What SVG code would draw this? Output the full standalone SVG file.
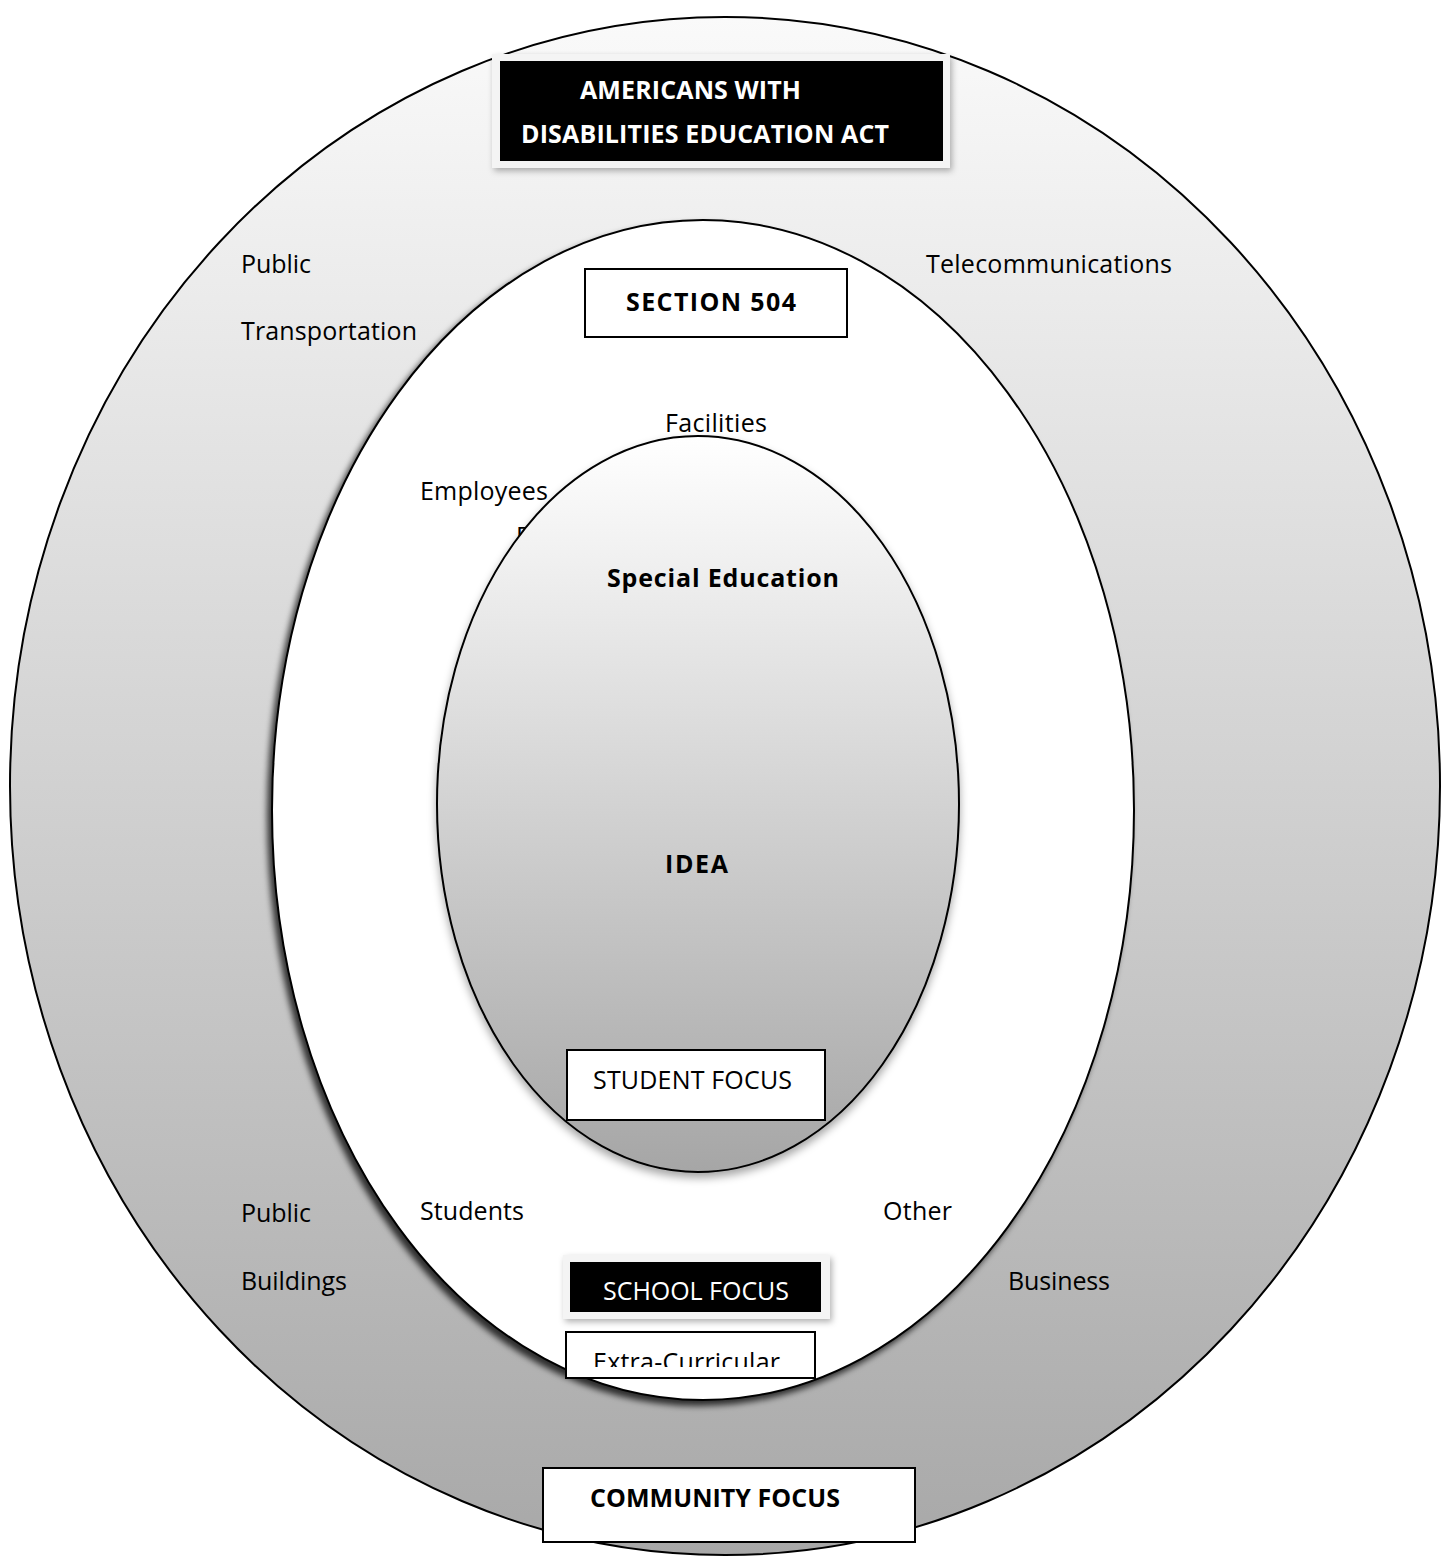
<svg xmlns="http://www.w3.org/2000/svg" width="1449" height="1557" viewBox="0 0 1449 1557">
<style>
.t{font-family:"Open Sans","Liberation Sans",sans-serif;font-size:25px;fill:#000}
.b{font-weight:bold;font-size:25px}
.w{fill:#fff}
.box{fill:#fff;stroke:#000;stroke-width:2}
.ell{stroke:#000;stroke-width:2}
</style>
<defs>
<linearGradient id="gOuter" x1="0" y1="0" x2="0" y2="1">
<stop offset="0" stop-color="#fafafa"/>
<stop offset="1" stop-color="#a8a8a8"/>
</linearGradient>
<linearGradient id="gInner" x1="0" y1="0" x2="0" y2="1">
<stop offset="0" stop-color="#ffffff"/>
<stop offset="1" stop-color="#a6a6a6"/>
</linearGradient>
<filter id="shMid" x="-10%" y="-10%" width="120%" height="120%">
<feDropShadow dx="-4" dy="5" stdDeviation="3" flood-color="#000" flood-opacity="0.75"/>
</filter>
<filter id="shIn" x="-10%" y="-10%" width="120%" height="120%">
<feDropShadow dx="0" dy="5" stdDeviation="4" flood-color="#000" flood-opacity="0.35"/>
</filter>
<filter id="shBox" x="-10%" y="-20%" width="120%" height="140%">
<feDropShadow dx="2" dy="3" stdDeviation="3" flood-color="#000" flood-opacity="0.3"/>
</filter>
<clipPath id="clipSO"><rect x="0" y="0" width="1449" height="1221"/></clipPath>
<clipPath id="clipEC"><rect x="0" y="0" width="1449" height="1367"/></clipPath>
</defs>

<g id="ada-ellipse">
<ellipse class="ell" cx="725" cy="786" rx="715" ry="769" fill="url(#gOuter)"/>
<text class="t" x="241" y="273" textLength="70">Public</text>
<text class="t" x="241" y="340" textLength="176">Transportation</text>
<text class="t" x="926" y="273" textLength="246">Telecommunications</text>
<text class="t" x="241" y="1222" textLength="70">Public</text>
<text class="t" x="241" y="1290" textLength="106">Buildings</text>
<text class="t" x="1008" y="1290" textLength="102">Business</text>
</g>

<g id="ada-title">
<rect x="492" y="54" width="458" height="114" fill="#f4f4f4" filter="url(#shBox)"/>
<rect x="500" y="61" width="443" height="100" fill="#000"/>
<text class="t b w" x="580" y="99" textLength="221">AMERICANS WITH</text>
<text class="t b w" x="521" y="143" textLength="368">DISABILITIES EDUCATION ACT</text>
</g>

<g id="section504-ellipse">
<ellipse class="ell" cx="703" cy="810" rx="431" ry="590" fill="#fff" filter="url(#shMid)"/>
<text class="t" x="665" y="432" textLength="102">Facilities</text>
<text class="t" x="420" y="500" textLength="128">Employees</text>
<text class="t" x="516" y="545">D</text>
<g clip-path="url(#clipSO)">
<text class="t" x="420" y="1220" textLength="104">Students</text>
<text class="t" x="883" y="1220" textLength="69">Other</text>
</g>
</g>

<g id="section504-label">
<rect class="box" x="585" y="269" width="262" height="68"/>
<text class="t b" x="626" y="311" textLength="170">SECTION 504</text>
</g>

<g id="idea-ellipse">
<ellipse class="ell" cx="698" cy="804" rx="261" ry="368" fill="url(#gInner)" filter="url(#shIn)"/>
<text class="t b" x="607" y="587" textLength="232">Special Education</text>
<text class="t b" x="665" y="873" textLength="63">IDEA</text>
</g>

<g id="student-focus">
<rect class="box" x="567" y="1050" width="258" height="70"/>
<text class="t" x="593" y="1089" textLength="199">STUDENT FOCUS</text>
</g>

<g id="school-focus">
<rect x="563" y="1255" width="267" height="64" fill="#f4f4f4" filter="url(#shBox)"/>
<rect x="570" y="1262" width="251" height="50" fill="#000"/>
<text class="t w" x="603" y="1300" textLength="186">SCHOOL FOCUS</text>
</g>

<g id="extra-curricular">
<rect class="box" x="566" y="1332" width="249" height="46"/>
<g clip-path="url(#clipEC)">
<text class="t" x="593" y="1371" textLength="187">Extra-Curricular</text>
</g>
</g>

<g id="community-focus">
<rect class="box" x="543" y="1468" width="372" height="74"/>
<text class="t b" x="590" y="1507" textLength="250">COMMUNITY FOCUS</text>
</g>

<g id="connectors"/>
</svg>
